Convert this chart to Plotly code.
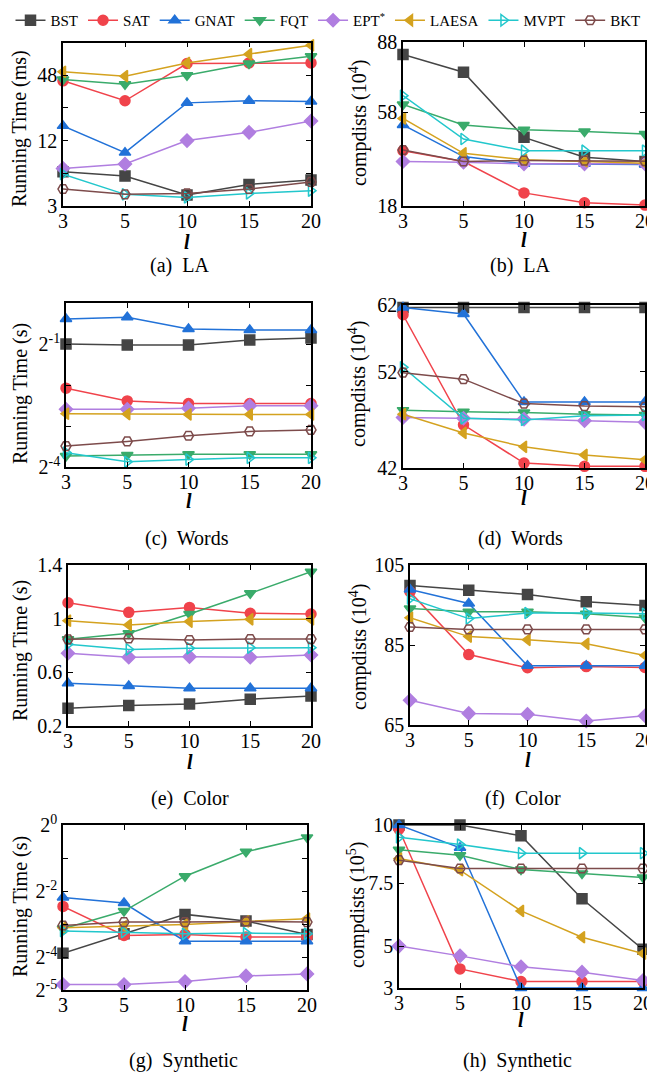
import math
import plotly.graph_objects as go

# The page adds an 8 px body margin; the figure is sized so that it ends at the window edge.
OFF = 8
W, H = 655 - OFF, 1074 - OFF
FONT = "Liberation Serif"

# x categories (l)
l_vals = ['3', '5', '10', '15', '20']

series = ['BST', 'SAT', 'GNAT', 'FQT', 'EPT*', 'LAESA', 'MVPT', 'BKT']
legend_names = ['BST', 'SAT', 'GNAT', 'FQT', 'EPT<sup>*</sup>', 'LAESA', 'MVPT', 'BKT']
colors = ['#454545', '#f0434b', '#2272d8', '#3aab6b', '#b07ee0', '#d4a21f', '#22c7cc', '#7d4b4b']
symbols = ['square', 'circle', 'triangle-up', 'triangle-down', 'diamond',
           'triangle-left', 'triangle-right-open', 'hexagon2-open']

# (a) LA, running time (ms)
la_time = {
    'BST':   [6.2, 5.66, 3.79, 4.74, 5.2],
    'SAT':   [42.6, 27.9, 61.5, 62.3, 62.3],
    'GNAT':  [16.4, 9.3, 26.7, 27.9, 27.5],
    'FQT':   [43.8, 39.6, 48.0, 61.5, 71.8],
    'EPT*':  [6.66, 7.3, 12.0, 14.3, 18.2],
    'LAESA': [51.6, 47.0, 62.3, 75.0, 90.5],
    'MVPT':  [5.9, 3.84, 3.6, 3.92, 4.15],
    'BKT':   [4.3, 3.84, 3.92, 4.3, 5.0],
}
# (b) LA, compdists (10^4)
la_comp = {
    'BST':   [82.7, 75.1, 47.3, 38.8, 37.0],
    'SAT':   [41.6, 37.0, 23.6, 19.4, 18.4],
    'GNAT':  [52.6, 39.1, 36.0, 36.0, 35.7],
    'FQT':   [61.3, 52.6, 50.5, 49.8, 48.7],
    'EPT*':  [37.0, 36.7, 36.0, 36.0, 36.0],
    'LAESA': [55.4, 40.5, 37.7, 37.1, 36.3],
    'MVPT':  [65.1, 46.6, 41.6, 41.6, 41.6],
    'BKT':   [41.9, 37.0, 37.4, 37.4, 37.1],
}
# (c) Words, running time (s)
words_time = {
    'BST':   [0.5, 0.491, 0.491, 0.535, 0.553],
    'SAT':   [0.237, 0.191, 0.183, 0.183, 0.183],
    'GNAT':  [0.763, 0.785, 0.644, 0.633, 0.633],
    'FQT':   [0.0752, 0.0765, 0.0774, 0.0774, 0.0774],
    'EPT*':  [0.166, 0.166, 0.169, 0.176, 0.176],
    'LAESA': [0.154, 0.153, 0.152, 0.152, 0.152],
    'MVPT':  [0.0797, 0.0682, 0.0709, 0.073, 0.073],
    'BKT':   [0.089, 0.0963, 0.106, 0.114, 0.117],
}
# (d) Words, compdists (10^4)
words_comp = {
    'BST':   [61.7, 61.7, 61.7, 61.7, 61.7],
    'SAT':   [60.8, 47.3, 42.6, 42.2, 42.2],
    'GNAT':  [61.7, 60.9, 50.1, 50.1, 50.1],
    'FQT':   [49.1, 48.9, 48.8, 48.6, 48.5],
    'EPT*':  [48.2, 48.1, 48.0, 47.8, 47.6],
    'LAESA': [48.6, 46.3, 44.6, 43.6, 43.0],
    'MVPT':  [54.35, 48.1, 47.9, 48.4, 48.5],
    'BKT':   [53.7, 52.9, 49.9, 49.6, 49.5],
}
# (e) Color, running time (s)
color_time = {
    'BST':   [0.332, 0.352, 0.364, 0.399, 0.424],
    'SAT':   [1.119, 1.047, 1.084, 1.04, 1.035],
    'GNAT':  [0.518, 0.498, 0.481, 0.481, 0.481],
    'FQT':   [0.846, 0.891, 1.035, 1.189, 1.35],
    'EPT*':  [0.742, 0.712, 0.717, 0.712, 0.729],
    'LAESA': [0.985, 0.953, 0.978, 0.995, 0.995],
    'MVPT':  [0.809, 0.771, 0.779, 0.784, 0.784],
    'BKT':   [0.846, 0.853, 0.841, 0.848, 0.848],
}
# (f) Color, compdists (10^4)
color_comp = {
    'BST':   [99.9, 98.7, 97.6, 95.8, 94.9],
    'SAT':   [98.3, 82.6, 79.3, 79.6, 79.4],
    'GNAT':  [98.9, 95.4, 79.8, 79.8, 79.8],
    'FQT':   [94.1, 93.3, 93.3, 92.8, 91.8],
    'EPT*':  [71.2, 67.9, 67.7, 66.0, 67.3],
    'LAESA': [91.8, 87.1, 86.3, 85.3, 82.4],
    'MVPT':  [96.6, 91.6, 93.0, 93.0, 92.8],
    'BKT':   [89.5, 88.9, 88.9, 88.9, 88.9],
}
# (g) Synthetic, running time (s)
syn_time = {
    'BST':   [0.0677, 0.1018, 0.153, 0.1329, 0.1004],
    'SAT':   [0.181, 0.0983, 0.1004, 0.0949, 0.0949],
    'GNAT':  [0.218, 0.194, 0.0872, 0.0872, 0.0872],
    'FQT':   [0.1132, 0.164, 0.341, 0.570, 0.771],
    'EPT*':  [0.035, 0.035, 0.0373, 0.042, 0.0438],
    'LAESA': [0.1155, 0.119, 0.124, 0.132, 0.1397],
    'MVPT':  [0.1077, 0.1055, 0.1018, 0.1032, 0.1018],
    'BKT':   [0.1212, 0.1302, 0.1302, 0.132, 0.1302],
}
# (h) Synthetic, compdists (10^5)
syn_comp = {
    'BST':   [10.0, 10.0, 9.54, 6.83, 4.66],
    'SAT':   [9.82, 3.82, 3.28, 3.28, 3.28],
    'GNAT':  [10.0, 9.02, 3.0, 3.0, 3.0],
    'FQT':   [8.94, 8.70, 8.09, 7.92, 7.75],
    'EPT*':  [4.80, 4.38, 3.91, 3.68, 3.32],
    'LAESA': [8.56, 8.06, 6.31, 5.18, 4.48],
    'MVPT':  [9.47, 9.16, 8.79, 8.79, 8.79],
    'BKT':   [8.49, 8.13, 8.13, 8.13, 8.13],
}

# y tick definitions: labelled ticks and unlabelled (minor) ticks
a_ticks = [3, 12, 48];              a_text = ['3', '12', '48'];           a_minor = [6, 24, 96]
b_ticks = [18, 58, 88];             b_text = ['18', '58', '88'];          b_minor = []
c_ticks = [2**-4, 2**-1];           c_text = ['2<sup>-4</sup>', '2<sup>-1</sup>']; c_minor = [2**-3, 2**-2, 1]
d_ticks = [42, 53.8, 62];           d_text = ['42', '52', '62'];          d_minor = []
e_ticks = [0.2, 0.6, 1.0, 1.4];     e_text = ['0.2', '0.6', '1', '1.4'];  e_minor = []
f_ticks = [65, 85, 105];            f_text = ['65', '85', '105'];         f_minor = []
g_ticks = [2**-5, 2**-4, 2**-2, 1]
g_text = ['2<sup>-5</sup>', '2<sup>-4</sup>', '2<sup>-2</sup>', '2<sup>0</sup>'];   g_minor = [2**-3, 2**-1]
h_ticks = [3, 4.8, 7.5, 10];        h_text = ['3', '5', '7.5', '10'];     h_minor = []

panels = [
    # data, log?, yrange, ticks, text, minor, page-px box (x0,x1,y0,y1), ytitle, caption
    (la_time, True, [3, 96], a_ticks, a_text, a_minor, (63, 311, 42.5, 206), 'Running Time (ms)', '(a)  LA'),
    (la_comp, False, [18, 88], b_ticks, b_text, b_minor, (403, 645, 42, 206), 'compdists (10<sup>4</sup>)', '(b)  LA'),
    (words_time, True, [2**-4, 1], c_ticks, c_text, c_minor, (66, 311, 303, 467), 'Running Time (s)', '(c)  Words'),
    (words_comp, False, [42, 62], d_ticks, d_text, d_minor, (403, 645, 305, 468), 'compdists (10<sup>4</sup>)', '(d)  Words'),
    (color_time, False, [0.2, 1.4], e_ticks, e_text, e_minor, (68, 311, 565, 726), 'Running Time (s)', '(e)  Color'),
    (color_comp, False, [65, 105], f_ticks, f_text, f_minor, (410, 645, 565, 725), 'compdists (10<sup>4</sup>)', '(f)  Color'),
    (syn_time, True, [2**-5, 1], g_ticks, g_text, g_minor, (63, 307, 825, 990), 'Running Time (s)', '(g)  Synthetic'),
    (syn_comp, False, [3, 10], h_ticks, h_text, h_minor, (399, 643, 825, 988), 'compdists (10<sup>5</sup>)', '(h)  Synthetic'),
]

ytitle_pos = [(20, 129), (358, 123), (20, 394), (358, 384), (20, 651), (358, 647), (20, 907), (356, 905)]
xtitle_y = [242, 240, 501, 498, 762, 760, 1024, 1020]
caption_pos = [(179, 266), (520, 266), (187, 538), (520, 538), (190, 798), (523, 798), (183, 1060), (517, 1060)]

fig = go.Figure()
annotations = []
layout = {}

def fx(px):
    return (px - OFF) / W

def fy(py):
    return 1 - (py - OFF) / H

for i, (data, islog, yr, tv, tt, mv, box, ytitle, cap) in enumerate(panels):
    n = i + 1
    xa = 'x' if n == 1 else f'x{n}'
    ya = 'y' if n == 1 else f'y{n}'
    for k, s in enumerate(series):
        fig.add_trace(go.Scatter(
            x=l_vals, y=data[s], xaxis=xa, yaxis=ya,
            mode='lines+markers', name=legend_names[k],
            legendgroup=s, showlegend=(n == 1),
            line=dict(color=colors[k], width=1.5),
            marker=dict(symbol=symbols[k], color=colors[k], size=10,
                        line=dict(color=colors[k], width=1.5)),
            cliponaxis=False,
        ))
    x0, x1, y0, y1 = box
    axcommon = dict(showline=True, linecolor='black', linewidth=1.5, mirror='ticks',
                    ticks='inside', ticklen=5, tickcolor='black', tickwidth=1,
                    showgrid=False, zeroline=False, automargin=False,
                    tickfont=dict(family=FONT, size=20, color='black'))
    xkey = 'xaxis' if n == 1 else f'xaxis{n}'
    ykey = 'yaxis' if n == 1 else f'yaxis{n}'
    layout[xkey] = dict(axcommon, domain=[fx(x0), fx(x1)], anchor=ya,
                        type='category', range=[0, 4], ticklabelstandoff=-4)
    ydict = dict(axcommon, domain=[fy(y1), fy(y0)], anchor=xa,
                 tickmode='array', tickvals=tv, ticktext=tt)
    if mv:
        ydict['minor'] = dict(tickmode='array', tickvals=mv, ticks='inside', ticklen=5,
                              tickcolor='black', tickwidth=1, showgrid=False)
    if islog:
        ydict.update(type='log', range=[math.log10(yr[0]), math.log10(yr[1])])
    else:
        ydict.update(range=yr)
    layout[ykey] = ydict
    # y title
    tx, ty = ytitle_pos[i]
    annotations.append(dict(text=ytitle, x=fx(tx), y=fy(ty), xref='paper', yref='paper',
                            xanchor='center', yanchor='middle', textangle=-90, showarrow=False,
                            font=dict(family=FONT, size=20, color='black')))
    # x title
    annotations.append(dict(text='<b><i>l</i></b>', x=fx((x0 + x1) / 2), y=fy(xtitle_y[i]),
                            xref='paper', yref='paper', xanchor='center', yanchor='middle',
                            showarrow=False, font=dict(family=FONT, size=20, color='black')))
    # caption
    cx, cy = caption_pos[i]
    annotations.append(dict(text=cap, x=fx(cx), y=fy(cy),
                            xref='paper', yref='paper', xanchor='center', yanchor='middle',
                            showarrow=False, font=dict(family=FONT, size=20, color='black')))

fig.update_layout(template='none')
fig.update_layout(**layout)
fig.update_layout(
    width=W, height=H, margin=dict(l=0, r=0, t=0, b=0, autoexpand=False),
    paper_bgcolor='white', plot_bgcolor='white',
    font=dict(family=FONT, color='black'),
    annotations=annotations,
    legend=dict(orientation='h', x=fx(328), xanchor='center', y=fy(4), yanchor='top',
                font=dict(family=FONT, size=15, color='black'),
                bgcolor='rgba(0,0,0,0)', itemwidth=30, tracegroupgap=0),
)

fig.write_html("out.html")
